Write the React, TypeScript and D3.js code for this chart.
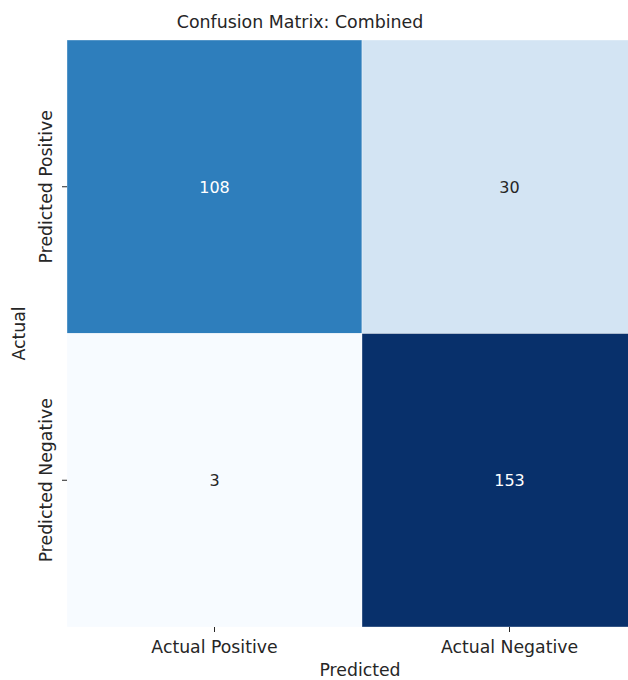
import React from "react";
import * as d3 from "d3";

const rowLabels = ["Predicted Positive", "Predicted Negative"];
const colLabels = ["Actual Positive", "Actual Negative"];
const values = [
  [108, 30],
  [3, 153],
];
const title = "Confusion Matrix: Combined";
const xTitle = "Predicted";
const yTitle = "Actual";
const bluesStops = ["#f7fbff", "#deebf7", "#c6dbef", "#9ecae1", "#6baed6", "#4292c6", "#2171b5", "#08519c", "#08306b"];

export default function App() {
  const W = 628, H = 680;
  const left = 67, top = 40, right = 657, bottom = 627;
  const x = d3.scaleBand<string>().domain(colLabels).range([left, right]);
  const y = d3.scaleBand<string>().domain(rowLabels).range([top, bottom]);
  const flat = values.flat();
  const vmin = d3.min(flat)!, vmax = d3.max(flat)!;
  const norm = d3.scaleLinear().domain([vmin, vmax]).range([0, 1]);
  const cmap = d3
    .scaleLinear<string>()
    .domain(bluesStops.map((_, i) => i / (bluesStops.length - 1)))
    .range(bluesStops)
    .interpolate(d3.interpolateRgb);
  const font = "DejaVu Sans, sans-serif";
  const fs = 17.3;
  return (
    <svg width={W} height={H} style={{ position: "absolute", left: 0, top: 0 }} fontFamily={font}>
      <rect width={W} height={H} fill="white" />
      {values.map((row, i) =>
        row.map((v, j) => {
          const t = norm(v);
          const cx = x(colLabels[j])! + x.bandwidth() / 2;
          const cy = y(rowLabels[i])! + y.bandwidth() / 2;
          return (
            <g key={`${i}-${j}`}>
              <rect
                x={x(colLabels[j])}
                y={y(rowLabels[i])}
                width={x.bandwidth()}
                height={y.bandwidth()}
                fill={cmap(t)}
                stroke="white"
                strokeWidth={0.6}
                strokeOpacity={0.6}
              />
              <text
                x={cx}
                y={cy + 6}
                textAnchor="middle"
                fontSize={16}
                fill={t > 0.5 ? "white" : "#262626"}
              >
                {v}
              </text>
            </g>
          );
        })
      )}
      {colLabels.map((c) => {
        const cx = x(c)! + x.bandwidth() / 2;
        return (
          <g key={c}>
            <line x1={cx} x2={cx} y1={bottom} y2={bottom + 5} stroke="#262626" strokeWidth={1} />
            <text x={cx} y={653} textAnchor="middle" fontSize={fs} fill="#262626">
              {c}
            </text>
          </g>
        );
      })}
      {rowLabels.map((r) => {
        const cy = y(r)! + y.bandwidth() / 2;
        return (
          <g key={r}>
            <line x1={left - 5} x2={left} y1={cy} y2={cy} stroke="#262626" strokeWidth={1} />
            <text
              transform={`translate(52,${cy}) rotate(-90)`}
              textAnchor="middle"
              fontSize={fs}
              fill="#262626"
            >
              {r}
            </text>
          </g>
        );
      })}
      <text x={360} y={676} textAnchor="middle" fontSize={fs} fill="#262626">
        {xTitle}
      </text>
      <text transform={`translate(25,${(top + bottom) / 2}) rotate(-90)`} textAnchor="middle" fontSize={fs} fill="#262626">
        {yTitle}
      </text>
      <text x={300} y={28} textAnchor="middle" fontSize={17.4} fill="#262626">
        {title}
      </text>
    </svg>
  );
}
